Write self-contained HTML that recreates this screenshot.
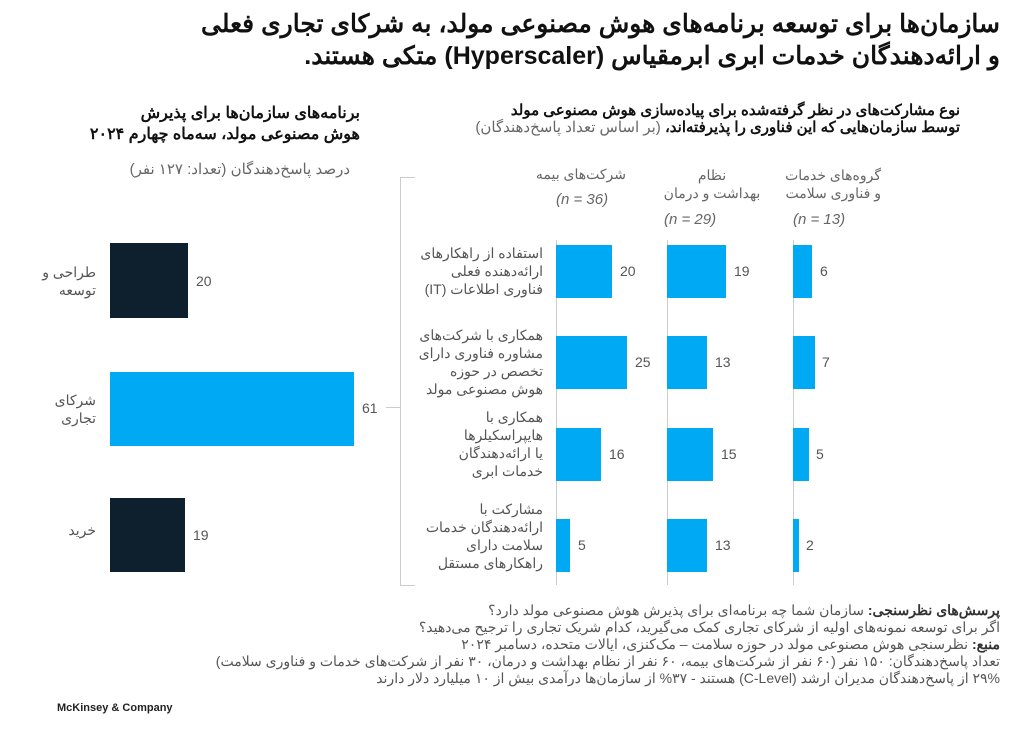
<!DOCTYPE html>
<html><head><meta charset="utf-8"><style>
body{margin:0;width:1024px;height:734px;background:#fff;position:relative;overflow:hidden;font-family:"Liberation Sans","Noto Sans CJK SC",sans-serif;}
.a{position:absolute;white-space:nowrap;}
.r{direction:rtl;text-align:right;}
.g{color:#666;}
.b{position:absolute;background:#00a9f4;}
.d{position:absolute;background:#0e1f2e;}
.v{position:absolute;font-size:14px;color:#555;}
.lab{position:absolute;direction:rtl;text-align:right;font-size:14px;line-height:18px;color:#555;white-space:nowrap;}
.ax{position:absolute;background:#ccc;width:1px;}
</style></head><body>
<div class="a r" style="right:24px;top:8px;font-size:25px;font-weight:bold;line-height:32px;color:#111;">سازمان‌ها برای توسعه برنامه‌های هوش مصنوعی مولد، به شرکای تجاری فعلی<br>و ارائه‌دهندگان خدمات ابری ابرمقیاس (Hyperscaler) متکی هستند.</div>

<div class="a r" style="right:664px;top:103px;font-size:16px;font-weight:bold;line-height:21px;color:#111;">برنامه‌های سازمان‌ها برای پذیرش<br>هوش مصنوعی مولد، سه‌ماه چهارم ۲۰۲۴</div>
<div class="a r g" style="right:674px;top:160px;font-size:15px;">درصد پاسخ‌دهندگان (تعداد: ۱۲۷ نفر)</div>

<div class="d" style="left:110px;top:243px;width:78px;height:75px"></div>
<div class="v" style="left:196px;top:273px;">20</div>
<div class="b" style="left:110px;top:372px;width:244px;height:74px"></div>
<div class="v" style="left:362px;top:400px;">61</div>
<div class="d" style="left:110px;top:498px;width:75px;height:74px"></div>
<div class="v" style="left:193px;top:527px;">19</div>
<div class="lab" style="right:928px;top:263px;">طراحی و<br>توسعه</div>
<div class="lab" style="right:928px;top:391px;">شرکای<br>تجاری</div>
<div class="lab" style="right:928px;top:521px;">خرید</div>

<div class="ax" style="left:400px;top:177px;height:408px;"></div>
<div class="a" style="left:400px;top:177px;width:15px;height:1px;background:#ccc"></div>
<div class="a" style="left:400px;top:585px;width:15px;height:1px;background:#ccc"></div>
<div class="a" style="left:386px;top:407px;width:14px;height:1px;background:#ccc"></div>

<div class="a r" style="right:64px;top:102px;font-size:15px;font-weight:bold;line-height:17px;color:#111;">نوع مشارکت‌های در نظر گرفته‌شده برای پیاده‌سازی هوش مصنوعی مولد<br>توسط سازمان‌هایی که این فناوری را پذیرفته‌اند، <span style="font-weight:normal;color:#666">(بر اساس تعداد پاسخ‌دهندگان)</span></div>

<div class="a r g" style="right:398px;top:166px;font-size:14px;">شرکت‌های بیمه</div>
<div class="a g" style="left:556px;top:191px;font-size:15px;font-style:italic;">(n = 36)</div>
<div class="a g" style="left:662px;top:166px;width:100px;text-align:center;font-size:14px;line-height:18px;white-space:normal;direction:rtl">نظام<br>بهداشت و درمان</div>
<div class="a g" style="left:664px;top:211px;font-size:15px;font-style:italic;">(n = 29)</div>
<div class="a r g" style="right:143px;top:166px;font-size:14px;line-height:18px;">گروه‌های خدمات<br>و فناوری سلامت</div>
<div class="a g" style="left:793px;top:211px;font-size:15px;font-style:italic;">(n = 13)</div>

<div class="ax" style="left:556px;top:240px;height:345px;"></div>
<div class="ax" style="left:667px;top:240px;height:345px;"></div>
<div class="ax" style="left:793px;top:240px;height:345px;"></div>

<div class="lab" style="right:481px;top:244px;">استفاده از راهکارهای<br>ارائه‌دهنده فعلی<br>فناوری اطلاعات (IT)</div>
<div class="lab" style="right:481px;top:326px;">همکاری با شرکت‌های<br>مشاوره فناوری دارای<br>تخصص در حوزه<br>هوش مصنوعی مولد</div>
<div class="lab" style="right:481px;top:408px;">همکاری با<br>هایپراسکیلرها<br>یا ارائه‌دهندگان<br>خدمات ابری</div>
<div class="lab" style="right:481px;top:500px;">مشارکت با<br>ارائه‌دهندگان خدمات<br>سلامت دارای<br>راهکارهای مستقل</div>

<div class="b" style="left:556px;top:245px;width:56px;height:53px"></div><div class="v" style="left:620px;top:263px">20</div>
<div class="b" style="left:556px;top:336px;width:71px;height:53px"></div><div class="v" style="left:635px;top:354px">25</div>
<div class="b" style="left:556px;top:428px;width:45px;height:53px"></div><div class="v" style="left:609px;top:446px">16</div>
<div class="b" style="left:556px;top:519px;width:14px;height:53px"></div><div class="v" style="left:578px;top:537px">5</div>

<div class="b" style="left:667px;top:245px;width:59px;height:53px"></div><div class="v" style="left:734px;top:263px">19</div>
<div class="b" style="left:667px;top:336px;width:40px;height:53px"></div><div class="v" style="left:715px;top:354px">13</div>
<div class="b" style="left:667px;top:428px;width:46px;height:53px"></div><div class="v" style="left:721px;top:446px">15</div>
<div class="b" style="left:667px;top:519px;width:40px;height:53px"></div><div class="v" style="left:715px;top:537px">13</div>

<div class="b" style="left:793px;top:245px;width:19px;height:53px"></div><div class="v" style="left:820px;top:263px">6</div>
<div class="b" style="left:793px;top:336px;width:22px;height:53px"></div><div class="v" style="left:822px;top:354px">7</div>
<div class="b" style="left:793px;top:428px;width:16px;height:53px"></div><div class="v" style="left:816px;top:446px">5</div>
<div class="b" style="left:793px;top:519px;width:6px;height:53px"></div><div class="v" style="left:806px;top:537px">2</div>

<div class="a r" style="right:24px;top:602px;font-size:14px;line-height:17px;color:#555;">
<b style="color:#333">پرسش‌های نظرسنجی:</b> سازمان شما چه برنامه‌ای برای پذیرش هوش مصنوعی مولد دارد؟<br>
اگر برای توسعه نمونه‌های اولیه از شرکای تجاری کمک می‌گیرید، کدام شریک تجاری را ترجیح می‌دهید؟<br>
<b style="color:#333">منبع:</b> نظرسنجی هوش مصنوعی مولد در حوزه سلامت – مک‌کنزی، ایالات متحده، دسامبر ۲۰۲۴<br>
تعداد پاسخ‌دهندگان: ۱۵۰ نفر (۶۰ نفر از شرکت‌های بیمه، ۶۰ نفر از نظام بهداشت و درمان، ۳۰ نفر از شرکت‌های خدمات و فناوری سلامت)<br>
۲۹% از پاسخ‌دهندگان مدیران ارشد (C-Level) هستند - ۳۷% از سازمان‌ها درآمدی بیش از ۱۰ میلیارد دلار دارند</div>

<div class="a" style="left:57px;top:702px;font-size:11px;font-weight:bold;color:#222;">McKinsey &amp; Company</div>
</body></html>
